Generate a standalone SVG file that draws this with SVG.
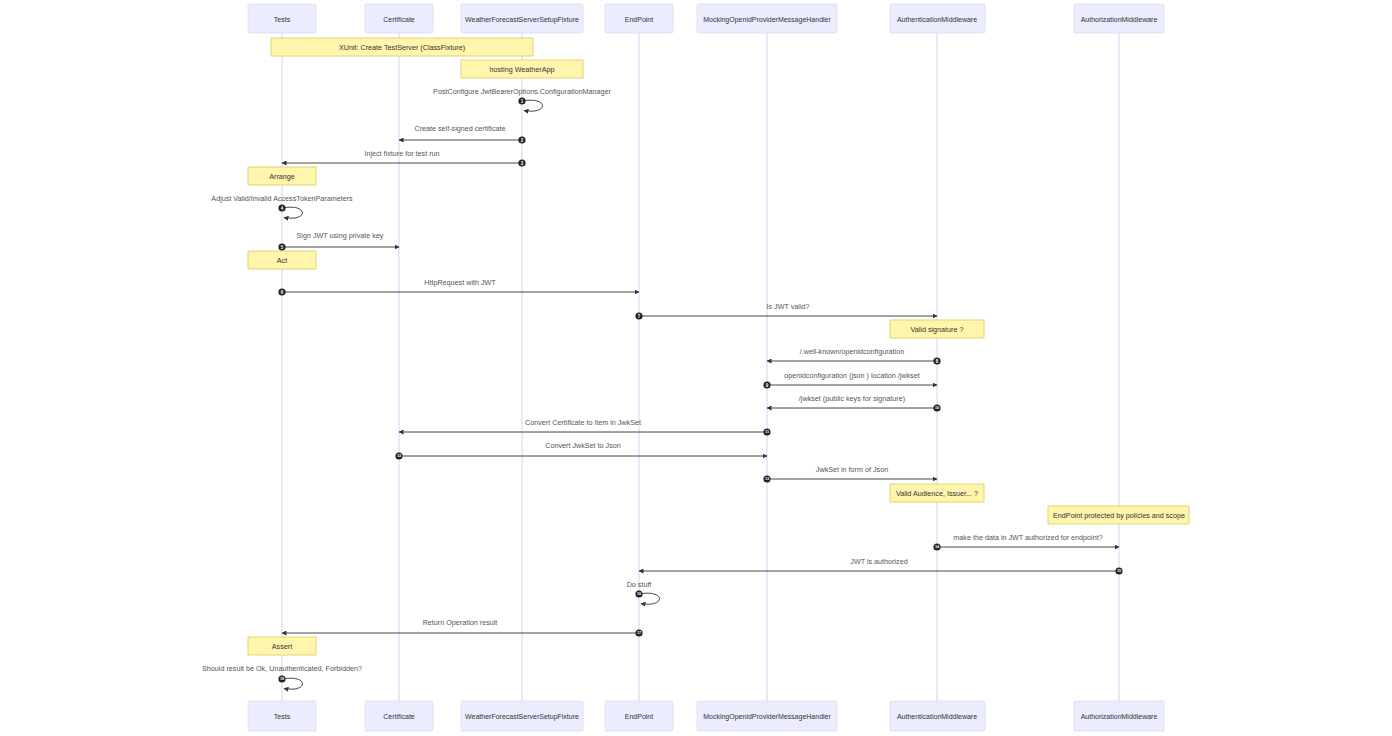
<svg xmlns="http://www.w3.org/2000/svg" width="1392" height="736" viewBox="0 0 1392 736">
<defs>
<style>
.actor{fill:#ECECFF;stroke:#d9d0f3;stroke-width:0.6}
.atext{font-family:"Liberation Sans",Arial,sans-serif;font-size:7px;fill:#333;text-anchor:middle;dominant-baseline:central}
.life{stroke:#d9d0f3;stroke-width:1}
.note{fill:#fff5ad;stroke:#d6ce5a;stroke-width:0.8}
.ntext{font-family:"Liberation Sans",Arial,sans-serif;font-size:7.2px;fill:#333;text-anchor:middle;dominant-baseline:central}
.msg{stroke:#333;stroke-width:0.9;fill:none}
.mtext{font-family:"Liberation Sans",Arial,sans-serif;font-size:7.2px;fill:#555;text-anchor:middle;dominant-baseline:central}
.num{fill:#222}
.ntx{font-family:"Liberation Sans",Arial,sans-serif;font-size:4.5px;font-weight:bold;fill:#fff;text-anchor:middle;dominant-baseline:central}
.ntx2{font-family:"Liberation Sans",Arial,sans-serif;font-size:3.8px;font-weight:bold;fill:#fff;text-anchor:middle;dominant-baseline:central}
</style>
<marker id="ah" viewBox="0 0 10 10" refX="9" refY="5" markerWidth="5" markerHeight="5" markerUnits="userSpaceOnUse" orient="auto">
<path d="M0,0 L10,5 L0,10 z" fill="#333"/>
</marker>
</defs>
<rect width="1392" height="736" fill="#fff"/>
<g id="lifelines">
<line class="life" x1="282" y1="33" x2="282" y2="701"/>
<line class="life" x1="399" y1="33" x2="399" y2="701"/>
<line class="life" x1="522" y1="33" x2="522" y2="701"/>
<line class="life" x1="639" y1="33" x2="639" y2="701"/>
<line class="life" x1="767" y1="33" x2="767" y2="701"/>
<line class="life" x1="937" y1="33" x2="937" y2="701"/>
<line class="life" x1="1119" y1="33" x2="1119" y2="701"/>
</g>
<g id="actor-tests">
<rect class="actor" x="248" y="4" width="68" height="29" rx="1.5"/><text class="atext" x="282" y="19">Tests</text>
<rect class="actor" x="248" y="701" width="68" height="30" rx="1.5"/><text class="atext" x="282" y="716">Tests</text>
</g>
<g id="actor-certificate">
<rect class="actor" x="365" y="4" width="68" height="29" rx="1.5"/><text class="atext" x="399" y="19">Certificate</text>
<rect class="actor" x="365" y="701" width="68" height="30" rx="1.5"/><text class="atext" x="399" y="716">Certificate</text>
</g>
<g id="actor-fixture">
<rect class="actor" x="461" y="4" width="122" height="29" rx="1.5"/><text class="atext" x="522" y="19">WeatherForecastServerSetupFixture</text>
<rect class="actor" x="461" y="701" width="122" height="30" rx="1.5"/><text class="atext" x="522" y="716">WeatherForecastServerSetupFixture</text>
</g>
<g id="actor-endpoint">
<rect class="actor" x="605" y="4" width="68" height="29" rx="1.5"/><text class="atext" x="639" y="19">EndPoint</text>
<rect class="actor" x="605" y="701" width="68" height="30" rx="1.5"/><text class="atext" x="639" y="716">EndPoint</text>
</g>
<g id="actor-mocking">
<rect class="actor" x="697" y="4" width="140" height="29" rx="1.5"/><text class="atext" x="767" y="19">MockingOpenidProviderMessageHandler</text>
<rect class="actor" x="697" y="701" width="140" height="30" rx="1.5"/><text class="atext" x="767" y="716">MockingOpenidProviderMessageHandler</text>
</g>
<g id="actor-authn">
<rect class="actor" x="890" y="4" width="95" height="29" rx="1.5"/><text class="atext" x="937" y="19">AuthenticationMiddleware</text>
<rect class="actor" x="890" y="701" width="95" height="30" rx="1.5"/><text class="atext" x="937" y="716">AuthenticationMiddleware</text>
</g>
<g id="actor-authz">
<rect class="actor" x="1074" y="4" width="90" height="29" rx="1.5"/><text class="atext" x="1119" y="19">AuthorizationMiddleware</text>
<rect class="actor" x="1074" y="701" width="90" height="30" rx="1.5"/><text class="atext" x="1119" y="716">AuthorizationMiddleware</text>
</g>
<g id="notes">
<g id="note-xunit"><rect class="note" x="271" y="38" width="262" height="18"/><text class="ntext" x="402" y="47">XUnit: Create TestServer (ClassFixture)</text></g>
<g id="note-hosting"><rect class="note" x="461" y="60" width="122" height="18"/><text class="ntext" x="522" y="69">hosting WeatherApp</text></g>
<g id="note-arrange"><rect class="note" x="248" y="167" width="68" height="18"/><text class="ntext" x="282" y="176">Arrange</text></g>
<g id="note-act"><rect class="note" x="248" y="251" width="68" height="18"/><text class="ntext" x="282" y="260">Act</text></g>
<g id="note-sig"><rect class="note" x="890" y="320" width="94" height="18"/><text class="ntext" x="937" y="329">Valid signature ?</text></g>
<g id="note-aud"><rect class="note" x="890" y="484" width="94" height="18"/><text class="ntext" x="937" y="493">Valid Audience, Issuer... ?</text></g>
<g id="note-policies"><rect class="note" x="1048" y="506" width="141" height="18"/><text class="ntext" x="1119" y="515">EndPoint protected by policies and scope</text></g>
<g id="note-assert"><rect class="note" x="248" y="637" width="68" height="18"/><text class="ntext" x="282" y="646">Assert</text></g>
</g>
<g id="connectors">
<path class="msg" d="M522,101 C549,96 549,115 524,110.5" marker-end="url(#ah)"/>
<text class="mtext" x="522" y="91">PostConfigure JwtBearerOptions.ConfigurationManager</text>
<line class="msg" x1="522" y1="140" x2="399" y2="140" marker-end="url(#ah)"/>
<text class="mtext" x="460" y="128">Create self-signed certificate</text>
<line class="msg" x1="522" y1="163" x2="282" y2="163" marker-end="url(#ah)"/>
<text class="mtext" x="402" y="153">Inject fixture for test run</text>
<path class="msg" d="M282,208 C309,203 309,222 284,217.5" marker-end="url(#ah)"/>
<text class="mtext" x="282" y="198">Adjust Valid/Invalid AccessTokenParameters</text>
<line class="msg" x1="282" y1="247" x2="399" y2="247" marker-end="url(#ah)"/>
<text class="mtext" x="340" y="235">Sign JWT using private key</text>
<line class="msg" x1="282" y1="292" x2="639" y2="292" marker-end="url(#ah)"/>
<text class="mtext" x="460" y="282">HttpRequest with JWT</text>
<line class="msg" x1="639" y1="316" x2="937" y2="316" marker-end="url(#ah)"/>
<text class="mtext" x="788" y="306">Is JWT valid?</text>
<line class="msg" x1="937" y1="361" x2="767" y2="361" marker-end="url(#ah)"/>
<text class="mtext" x="852" y="351">/.well-known/openidconfiguration</text>
<line class="msg" x1="767" y1="385" x2="937" y2="385" marker-end="url(#ah)"/>
<text class="mtext" x="852" y="375">openidconfiguration (json ) location /jwkset</text>
<line class="msg" x1="937" y1="408" x2="767" y2="408" marker-end="url(#ah)"/>
<text class="mtext" x="852" y="398">/jwkset (public keys for signature)</text>
<line class="msg" x1="767" y1="432" x2="399" y2="432" marker-end="url(#ah)"/>
<text class="mtext" x="583" y="422">Convert Certificate to item in JwkSet</text>
<line class="msg" x1="399" y1="456" x2="767" y2="456" marker-end="url(#ah)"/>
<text class="mtext" x="583" y="445">Convert JwkSet to Json</text>
<line class="msg" x1="767" y1="479" x2="937" y2="479" marker-end="url(#ah)"/>
<text class="mtext" x="852" y="469">JwkSet in form of Json</text>
<line class="msg" x1="937" y1="547" x2="1119" y2="547" marker-end="url(#ah)"/>
<text class="mtext" x="1028" y="537">make the data in JWT authorized for endpoint?</text>
<line class="msg" x1="1119" y1="571" x2="639" y2="571" marker-end="url(#ah)"/>
<text class="mtext" x="879" y="561">JWT is authorized</text>
<path class="msg" d="M639,594 C666,589 666,608 641,603.5" marker-end="url(#ah)"/>
<text class="mtext" x="639" y="584">Do stuff</text>
<line class="msg" x1="639" y1="633" x2="282" y2="633" marker-end="url(#ah)"/>
<text class="mtext" x="460" y="622">Return Operation result</text>
<path class="msg" d="M282,679 C309,674 309,693 284,688.5" marker-end="url(#ah)"/>
<text class="mtext" x="282" y="668">Should result be Ok, Unauthenticated, Forbidden?</text>
</g>
<g id="sequence-numbers">
<circle class="num" cx="522" cy="101" r="3.6"/><text class="ntx" x="522" y="101">1</text>
<circle class="num" cx="522" cy="140" r="3.6"/><text class="ntx" x="522" y="140">2</text>
<circle class="num" cx="522" cy="163" r="3.6"/><text class="ntx" x="522" y="163">3</text>
<circle class="num" cx="282" cy="208" r="3.6"/><text class="ntx" x="282" y="208">4</text>
<circle class="num" cx="282" cy="247" r="3.6"/><text class="ntx" x="282" y="247">5</text>
<circle class="num" cx="282" cy="292" r="3.6"/><text class="ntx" x="282" y="292">6</text>
<circle class="num" cx="639" cy="316" r="3.6"/><text class="ntx" x="639" y="316">7</text>
<circle class="num" cx="937" cy="361" r="3.6"/><text class="ntx" x="937" y="361">8</text>
<circle class="num" cx="767" cy="385" r="3.6"/><text class="ntx" x="767" y="385">9</text>
<circle class="num" cx="937" cy="408" r="3.6"/><text class="ntx2" x="937" y="408">10</text>
<circle class="num" cx="767" cy="432" r="3.6"/><text class="ntx2" x="767" y="432">11</text>
<circle class="num" cx="399" cy="456" r="3.6"/><text class="ntx2" x="399" y="456">12</text>
<circle class="num" cx="767" cy="479" r="3.6"/><text class="ntx2" x="767" y="479">13</text>
<circle class="num" cx="937" cy="547" r="3.6"/><text class="ntx2" x="937" y="547">14</text>
<circle class="num" cx="1119" cy="571" r="3.6"/><text class="ntx2" x="1119" y="571">15</text>
<circle class="num" cx="639" cy="594" r="3.6"/><text class="ntx2" x="639" y="594">16</text>
<circle class="num" cx="639" cy="633" r="3.6"/><text class="ntx2" x="639" y="633">17</text>
<circle class="num" cx="282" cy="679" r="3.6"/><text class="ntx2" x="282" y="679">18</text>
</g>
</svg>
